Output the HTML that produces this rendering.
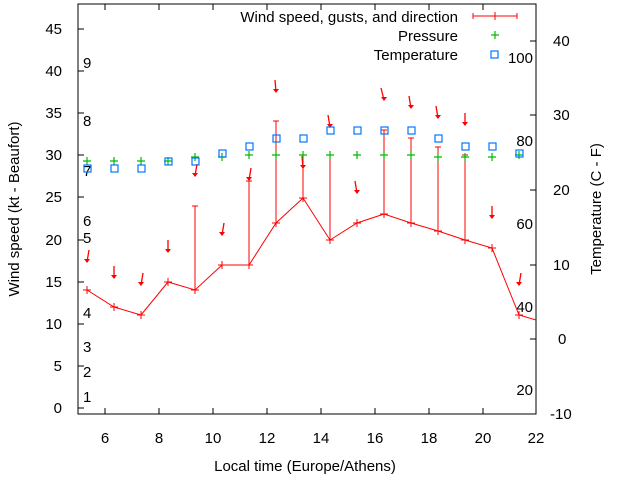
<!DOCTYPE html>
<html><head><meta charset="utf-8"><style>
html,body{margin:0;padding:0;background:#fff;}
svg{display:block;font-family:"Liberation Sans",sans-serif;}
</style></head><body>
<svg width="640" height="480" viewBox="0 0 640 480" xmlns="http://www.w3.org/2000/svg">
<rect width="640" height="480" fill="#fff"/>
<g font-size="15" fill="#000">
<g stroke="#000" stroke-width="1">
<line x1="78" y1="408" x2="84" y2="408"/><line x1="78" y1="366" x2="84" y2="366"/><line x1="78" y1="324" x2="84" y2="324"/><line x1="78" y1="282" x2="84" y2="282"/><line x1="78" y1="240" x2="84" y2="240"/><line x1="78" y1="197" x2="84" y2="197"/><line x1="78" y1="155" x2="84" y2="155"/><line x1="78" y1="113" x2="84" y2="113"/><line x1="78" y1="71" x2="84" y2="71"/><line x1="78" y1="29" x2="84" y2="29"/>
<line x1="536" y1="41" x2="530" y2="41"/><line x1="536" y1="115" x2="530" y2="115"/><line x1="536" y1="190" x2="530" y2="190"/><line x1="536" y1="265" x2="530" y2="265"/><line x1="536" y1="339" x2="530" y2="339"/><line x1="536" y1="414" x2="530" y2="414"/>
<line x1="105" y1="414" x2="105" y2="408"/><line x1="159" y1="414" x2="159" y2="408"/><line x1="213" y1="414" x2="213" y2="408"/><line x1="267" y1="414" x2="267" y2="408"/><line x1="321" y1="414" x2="321" y2="408"/><line x1="375" y1="414" x2="375" y2="408"/><line x1="429" y1="414" x2="429" y2="408"/><line x1="483" y1="414" x2="483" y2="408"/>
<line x1="105" y1="4" x2="105" y2="10"/><line x1="159" y1="4" x2="159" y2="10"/><line x1="213" y1="4" x2="213" y2="10"/><line x1="267" y1="4" x2="267" y2="10"/><line x1="321" y1="4" x2="321" y2="10"/><line x1="375" y1="4" x2="375" y2="10"/><line x1="429" y1="4" x2="429" y2="10"/><line x1="483" y1="4" x2="483" y2="10"/>
</g>
<g text-anchor="end">
<text x="62" y="413">0</text><text x="62" y="371">5</text><text x="62" y="329">10</text><text x="62" y="287">15</text><text x="62" y="245">20</text><text x="62" y="202">25</text><text x="62" y="160">30</text><text x="62" y="118">35</text><text x="62" y="76">40</text><text x="62" y="34">45</text>
</g>
<g text-anchor="start">
<text x="553" y="46">40</text><text x="553" y="120">30</text><text x="553" y="195">20</text><text x="553" y="270">10</text><text x="558" y="344">0</text><text x="550" y="419">-10</text>
</g>
<g text-anchor="middle">
<text x="105" y="443">6</text><text x="159" y="443">8</text><text x="213" y="443">10</text><text x="267" y="443">12</text><text x="321" y="443">14</text><text x="375" y="443">16</text><text x="429" y="443">18</text><text x="483" y="443">20</text><text x="536" y="443">22</text>
<text x="305" y="471">Local time (Europe/Athens)</text>
</g>
<text transform="translate(19,209) rotate(-90)" text-anchor="middle">Wind speed (kt - Beaufort)</text>
<text transform="translate(601,209) rotate(-90)" text-anchor="middle">Temperature (C - F)</text>
<g>
<text x="83" y="402">1</text><text x="83" y="377">2</text><text x="83" y="352">3</text><text x="83" y="318">4</text><text x="83" y="243">5</text><text x="83" y="226">6</text><text x="83" y="176">7</text><text x="83" y="126">8</text><text x="83" y="68">9</text>
</g>
<g text-anchor="end">
<text x="533" y="63">100</text><text x="533" y="146">80</text><text x="533" y="229">60</text><text x="533" y="312">40</text><text x="533" y="395">20</text>
</g>
<g text-anchor="end">
<text x="458" y="22">Wind speed, gusts, and direction</text>
<text x="458" y="41">Pressure</text>
<text x="458" y="60">Temperature</text>
</g>
</g>
<rect x="78" y="4" width="458" height="410" fill="none" stroke="#000" stroke-width="1"/>
<g stroke="#f00" stroke-width="1" fill="none">
<line x1="473" y1="16" x2="517" y2="16"/><line x1="473" y1="13" x2="473" y2="19"/><line x1="517" y1="13" x2="517" y2="19"/><line x1="495" y1="12" x2="495" y2="20"/>
<path d="M195 206V290M192 206h6M249 181V264M246 181h6M276 121V223M273 121h6M303 155V198M300 155h6M330 155V240M327 155h6M384 130V214M381 130h6M411 138V223M408 138h6M438 147V231M435 147h6M465 155V240M462 155h6"/>
<polyline points="87,290 114,307 141,315 168,282 195,290 222,265 249,265 276,223 303,198 330,240 357,223 384,214 411,223 438,231 465,240 492,248 519,315 536,320"/>
<path d="M83 290h8M87 286v8M110 307h8M114 303v8M137 315h8M141 311v8M164 282h8M168 278v8M191 290h8M195 286v8M218 265h8M222 261v8M245 265h8M249 261v8M272 223h8M276 219v8M299 198h8M303 194v8M326 240h8M330 236v8M353 223h8M357 219v8M380 214h8M384 210v8M407 223h8M411 219v8M434 231h8M438 227v8M461 240h8M465 236v8M488 248h8M492 244v8M515 315h8M519 311v8"/>
</g>
<g fill="#f00" stroke="#f00" stroke-width="1.3">
<path d="M89 250L87 262"/><path d="M114 266L114 278"/><path d="M143 273L141 285"/><path d="M168 240L168 252"/><path d="M197 164L195 176"/><path d="M224 223L222 235"/><path d="M251 168L249 180"/><path d="M275 80L276 92"/><path d="M302 156L303 168"/><path d="M328 115L330 127"/><path d="M355 181L357 193"/><path d="M381 88L384 100"/><path d="M409 96L411 108"/><path d="M436 106L438 118"/><path d="M465 113L465 125"/><path d="M492 206L492 218"/><path d="M521 273L519 285"/>
</g>
<g fill="#f00">
<path d="M84 259h6l-3 4z"/><path d="M111 275h6l-3 4z"/><path d="M138 282h6l-3 4z"/><path d="M165 249h6l-3 4z"/><path d="M192 173h6l-3 4z"/><path d="M219 232h6l-3 4z"/><path d="M246 177h6l-3 4z"/><path d="M273 89h6l-3 4z"/><path d="M300 165h6l-3 4z"/><path d="M327 124h6l-3 4z"/><path d="M354 190h6l-3 4z"/><path d="M381 97h6l-3 4z"/><path d="M408 105h6l-3 4z"/><path d="M435 115h6l-3 4z"/><path d="M462 122h6l-3 4z"/><path d="M489 215h6l-3 4z"/><path d="M516 282h6l-3 4z"/>
</g>
<g stroke="#0b0" stroke-width="1.2">
<path d="M491 35h8M495 31v8"/>
<path d="M83 161h8M87 157v8M110 161h8M114 157v8M137 161h8M141 157v8M164 161h8M168 157v8M191 157h8M195 153v8M218 157h8M222 153v8M245 155h8M249 151v8M272 155h8M276 151v8M299 155h8M303 151v8M326 155h8M330 151v8M353 155h8M357 151v8M380 155h8M384 151v8M407 155h8M411 151v8M434 157h8M438 153v8M461 157h8M465 153v8M488 157h8M492 153v8M515 155h8M519 151v8"/>
</g>
<g stroke="#07f" stroke-width="1.2" fill="none">
<rect x="491" y="51" width="7" height="7"/>
<rect x="84" y="165" width="7" height="7"/><rect x="111" y="165" width="7" height="7"/><rect x="138" y="165" width="7" height="7"/><rect x="165" y="158" width="7" height="7"/><rect x="192" y="158" width="7" height="7"/><rect x="219" y="150" width="7" height="7"/><rect x="246" y="143" width="7" height="7"/><rect x="273" y="135" width="7" height="7"/><rect x="300" y="135" width="7" height="7"/><rect x="327" y="127" width="7" height="7"/><rect x="354" y="127" width="7" height="7"/><rect x="381" y="127" width="7" height="7"/><rect x="408" y="127" width="7" height="7"/><rect x="435" y="135" width="7" height="7"/><rect x="462" y="143" width="7" height="7"/><rect x="489" y="143" width="7" height="7"/><rect x="516" y="150" width="7" height="7"/>
</g>
</svg>
</body></html>
